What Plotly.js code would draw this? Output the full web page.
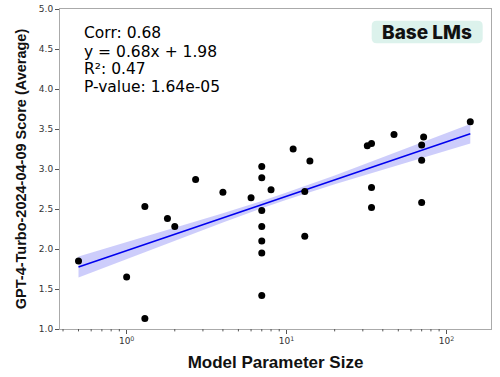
<!DOCTYPE html>
<html>
<head>
<meta charset="utf-8">
<script src="https://cdn.plot.ly/plotly-3.0.1.min.js"></script>
<style>html,body{margin:0;padding:0;background:#fff;}#chart{width:500px;height:377px;}</style>
</head>
<body>
<div id="chart"></div>
<script>
// Model parameter sizes (billions) and GPT-4-Turbo average scores
const paramSize = [0.5, 1.0, 1.3, 1.3, 1.8, 2.0, 2.7, 4.0, 6.0,
  7.0, 7.0, 7.0, 7.0, 7.0, 7.0, 7.0,
  8.0, 11.0, 13.0, 13.0, 14.0, 32.0, 34.0, 34.0, 34.0, 47.0,
  70.0, 70.0, 70.0, 72.0, 141.0];
const scores = [1.85, 1.65, 2.53, 1.13, 2.38, 2.28, 2.87, 2.71, 2.64,
  3.03, 2.89, 2.48, 2.28, 2.10, 1.95, 1.42,
  2.74, 3.25, 2.72, 2.16, 3.10, 3.29, 3.32, 2.77, 2.52, 3.43,
  3.30, 3.11, 2.58, 3.40, 3.59];
// Regression fit (log10 x) as stated in the chart
const slope = 0.68, intercept = 1.98;
const fitX = [0.5, 141.0];
// Confidence band
const bandX = [0.5, 1, 2, 4, 7, 10, 20, 40, 80, 141];
const bandUpper = [1.905, 2.083, 2.263, 2.446, 2.601, 2.705, 2.920, 3.145, 3.375, 3.564];
const bandLower = [1.645, 1.877, 2.107, 2.332, 2.509, 2.615, 2.810, 2.993, 3.173, 3.318];
// Tick labels
const xTickVals = [1, 10, 100];
const xTickText = ['10<sup>0</sup>', '10<sup>1</sup>', '10<sup>2</sup>'];
const yTickVals = [1.0, 1.5, 2.0, 2.5, 3.0, 3.5, 4.0, 4.5, 5.0];
const yTickText = ['1.0', '1.5', '2.0', '2.5', '3.0', '3.5', '4.0', '4.5', '5.0'];
const statLines = ['Corr: 0.68', 'y = 0.68x + 1.98', 'R²: 0.47', 'P-value: 1.64e-05'];
const badgeText = 'Base LMs';

const fitY = fitX.map(v => slope * Math.log10(v) + intercept);
const minorVals = [];
[0.1, 1, 10, 100].forEach(d => { for (let k = 2; k <= 9; k++) minorVals.push(k * d); });
const xMin = 0.383, xMax = 190;

const traces = [
  {x: bandX, y: bandLower, mode: 'lines', line: {width: 0, color: 'rgba(0,0,0,0)'}, hoverinfo: 'skip', showlegend: false},
  {x: bandX, y: bandUpper, mode: 'lines', line: {width: 0, color: 'rgba(0,0,0,0)'}, fill: 'tonexty', fillcolor: 'rgba(70,70,240,0.27)', hoverinfo: 'skip', showlegend: false},
  {x: fitX, y: fitY, mode: 'lines', line: {color: '#0000ee', width: 1.5}, showlegend: false},
  {x: paramSize, y: scores, mode: 'markers', marker: {color: '#000', size: 7}, showlegend: false}
];

const lineY = [0.925, 0.8666, 0.8125, 0.756];
const annotations = statLines.map((t, i) => ({
  xref: 'paper', yref: 'paper', x: 0.05, y: lineY[i], xanchor: 'left', yanchor: 'middle',
  text: t, showarrow: false, font: {family: 'DejaVu Sans', size: 15.5, color: '#000'}
}));
annotations.push({
  xref: 'paper', yref: 'paper', x: 0.852, y: 0.928, xanchor: 'center', yanchor: 'middle',
  text: badgeText, showarrow: false, font: {family: 'Inter', size: 19, color: '#111', weight: 800}
});

const rx = 0.0116, ry = 0.0156, x0 = 0.7232, x1 = 0.9807, y0 = 0.8928, y1 = 0.9634;
const badgePath = `M ${x0+rx},${y0} L ${x1-rx},${y0} Q ${x1},${y0} ${x1},${y0+ry} L ${x1},${y1-ry} Q ${x1},${y1} ${x1-rx},${y1} L ${x0+rx},${y1} Q ${x0},${y1} ${x0},${y1-ry} L ${x0},${y0+ry} Q ${x0},${y0} ${x0+rx},${y0} Z`;

const shapes = [{type: 'path', xref: 'paper', yref: 'paper', path: badgePath, fillcolor: '#dcf2ec', line: {width: 0}, layer: 'below'}];
minorVals.filter(v => v > xMin && v < xMax).forEach(v => {
  shapes.push({type: 'line', xref: 'x', yref: 'paper', x0: v, x1: v, y0: 0, y1: -0.0075,
    line: {color: '#555', width: 1}, layer: 'above'});
});

const layout = {
  width: 500, height: 377,
  margin: {l: 60, r: 9, t: 9, b: 48},
  paper_bgcolor: '#fff', plot_bgcolor: '#fff',
  xaxis: {
    type: 'log', range: [Math.log10(xMin), Math.log10(xMax)],
    tickmode: 'array', tickvals: xTickVals, ticktext: xTickText,
    ticks: 'outside', ticklen: 3.5, tickcolor: '#555', showgrid: false, zeroline: false,
    showline: true, linecolor: '#aaa', linewidth: 1, mirror: true,
    tickfont: {family: 'DejaVu Sans', size: 9, color: '#333'},
    title: {text: '<b>Model Parameter Size</b>', font: {family: 'Liberation Sans', size: 17, color: '#111'}, standoff: 10}
  },
  yaxis: {
    range: [1.0, 5.0], tickmode: 'array', tickvals: yTickVals, ticktext: yTickText,
    ticks: 'outside', ticklen: 4, tickcolor: '#555', showgrid: false, zeroline: false,
    showline: true, linecolor: '#aaa', linewidth: 1, mirror: true,
    tickfont: {family: 'DejaVu Sans', size: 9, color: '#333'},
    title: {text: '<b>GPT-4-Turbo-2024-04-09 Score (Average)</b>', font: {family: 'Liberation Sans', size: 14.5, color: '#111'}, standoff: 8}
  },
  shapes: shapes,
  annotations: annotations
};

Plotly.newPlot('chart', traces, layout, {displayModeBar: false, staticPlot: true});
</script>
</body>
</html>
